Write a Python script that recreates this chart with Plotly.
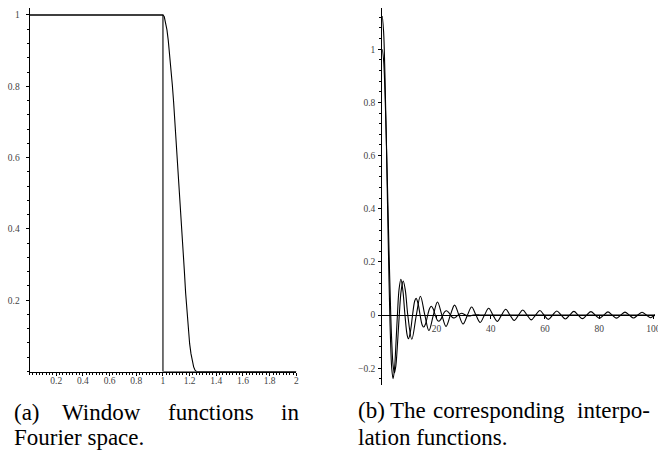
import plotly.graph_objects as go

# ---------------- data ----------------
# (a) window functions in Fourier space
box_x = [0.0, 1.0, 1.0, 2.0]
box_y = [1.0, 1.0, 0.0, 0.0]

smooth_x = [0.0, 1.00, 1.01, 1.02, 1.03, 1.04, 1.05, 1.06, 1.07, 1.08, 1.09, 1.10,
            1.11, 1.12, 1.13, 1.14, 1.15, 1.16, 1.17, 1.18, 1.19, 1.20, 1.21,
            1.22, 1.23, 1.24, 1.25, 2.0]
smooth_y = [1.0, 1.000, 0.995, 0.980, 0.958, 0.928, 0.890, 0.848, 0.805, 0.755, 0.700, 0.645,
            0.590, 0.530, 0.470, 0.410, 0.350, 0.285, 0.220, 0.162, 0.115, 0.078, 0.050,
            0.028, 0.013, 0.004, 0.000, 0.0]

# (b) corresponding interpolation functions
sinc_x = [0, 0.5, 1.0, 1.5, 2.0, 2.5, 3.14, 3.5, 4.0, 4.49, 5.0, 5.5, 6.28, 7.0, 7.73, 8.5,
          9.42, 10.9, 12.57, 14.07, 15.71, 17.22, 18.85, 20.37, 21.99, 23.52, 25.13,
          26.67, 28.27, 29.81, 31.42, 32.96, 34.56, 36.10, 37.70, 39.25, 40.84, 42.39,
          43.98, 45.53, 47.12, 48.67, 50.27, 51.81, 53.41, 54.96, 56.55, 58.10, 59.69,
          61.24, 62.83, 64.38, 65.97, 67.53, 69.12, 70.67, 72.26, 73.81, 75.40, 76.95,
          78.54, 80.10, 81.68, 83.24, 84.82, 86.38, 87.96, 89.52, 91.11, 92.66, 94.25,
          95.81, 97.39, 98.95, 100.53, 102.1]
sinc_y = [1.0, 0.959, 0.841, 0.665, 0.455, 0.239, 0.0, -0.100, -0.189, -0.217, -0.192, -0.128,
          0.0, 0.094, 0.128, 0.094, 0.0, -0.091, 0.0, 0.071, 0.0, -0.058, 0.0, 0.049, 0.0,
          -0.0425, 0.0, 0.0375, 0.0, -0.0335, 0.0, 0.0303, 0.0, -0.0277, 0.0, 0.0255, 0.0,
          -0.0236, 0.0, 0.0220, 0.0, -0.0205, 0.0, 0.0193, 0.0, -0.0182, 0.0, 0.0172, 0.0,
          -0.0163, 0.0, 0.0155, 0.0, -0.0148, 0.0, 0.0141, 0.0, -0.0135, 0.0, 0.0130, 0.0,
          -0.0125, 0.0, 0.0120, 0.0, -0.0116, 0.0, 0.0112, 0.0, -0.0108, 0.0, 0.0104, 0.0,
          -0.0101, 0.0, 0.0098]

smooth_interp_x = [0, 0.5, 1.0, 1.5, 2.0, 2.5, 2.79, 3.0, 3.5, 3.99, 4.5, 5.0, 5.59, 6.2,
                   6.87, 7.6, 8.38, 9.2, 9.69, 10.5, 11.17, 12.0, 12.5, 13.3, 13.96, 14.8,
                   15.31, 16.0, 16.76, 17.5, 18.11, 18.8, 19.55, 20.3, 20.91, 21.6, 22.34,
                   23.0, 23.70, 24.4, 25.13, 25.8, 26.5, 27.2, 27.93, 29.29, 30.72, 32.09,
                   33.51, 34.88, 36.30, 40.0, 102.0]
smooth_interp_y = [1.125, 1.066, 0.901, 0.660, 0.387, 0.127, 0.0, -0.076, -0.200, -0.239,
                   -0.204, -0.118, 0.0, 0.097, 0.135, 0.093, 0.0, -0.076, -0.089, -0.055,
                   0.0, 0.054, 0.063, 0.039, 0.0, -0.039, -0.045, -0.032, 0.0, 0.026, 0.033,
                   0.0225, 0.0, -0.019, -0.023, -0.016, 0.0, 0.012, 0.016, 0.011, 0.0,
                   -0.008, -0.011, -0.007, 0.0, 0.0067, 0.0, -0.0036, 0.0, 0.0015, 0.0, 0.0, 0.0]

left_xtick_vals = [0.2, 0.4, 0.6, 0.8, 1.0, 1.2, 1.4, 1.6, 1.8, 2.0]
left_xtick_text = ["0.2", "0.4", "0.6", "0.8", "1", "1.2", "1.4", "1.6", "1.8", "2"]
left_ytick_vals = [0.2, 0.4, 0.6, 0.8, 1.0]
left_ytick_text = ["0.2", "0.4", "0.6", "0.8", "1"]
right_xtick_vals = [20, 40, 60, 80, 100]
right_xtick_text = ["20", "40", "60", "80", "100"]
right_ytick_vals = [-0.2, 0, 0.2, 0.4, 0.6, 0.8, 1.0]
right_ytick_text = ["\u22120.2", "0", "0.2", "0.4", "0.6", "0.8", "1"]

caption_a1 = ["(a)", "Window", "functions", "in"]
caption_a2 = "Fourier space."
caption_b1 = ["(b)", "The", "corresponding", "interpo-"]
caption_b2 = "lation functions."

# ---------------- layout helpers ----------------
W, H = 658, 452
def fx(p):
    return p / W
def fy(p):
    return 1 - p / H

SERIF = "Liberation Serif, Times New Roman, Times, serif"
LINE = dict(color="black", width=1.1)
TICKFONT = dict(family=SERIF, size=9.5, color="#444")

fig = go.Figure()
fig.add_trace(go.Scatter(x=box_x, y=box_y, mode="lines", line=LINE, xaxis="x", yaxis="y"))
fig.add_trace(go.Scatter(x=smooth_x, y=smooth_y, mode="lines", line=LINE,
                         xaxis="x", yaxis="y"))
fig.add_trace(go.Scatter(x=sinc_x, y=sinc_y, mode="lines", line=dict(LINE, shape="spline"),
                         xaxis="x2", yaxis="y2"))
fig.add_trace(go.Scatter(x=smooth_interp_x, y=smooth_interp_y, mode="lines",
                         line=dict(LINE, shape="spline"), xaxis="x2", yaxis="y2"))

# right panel geometry
r_y_range = [-0.263, 1.155]
r_top, r_bot = 8, 385
r_zero_px = r_top + (r_y_range[1] - 0) / (r_y_range[1] - r_y_range[0]) * (r_bot - r_top)
r_x0, r_scale = 384, 2.724

common_axis = dict(showgrid=False, zeroline=False, showline=True, linecolor="black",
                   linewidth=1, ticks="outside", tickcolor="black", tickwidth=1,
                   tickfont=TICKFONT, fixedrange=True, ticklabeloverflow="allow")

fig.update_layout(
    width=W, height=H, margin=dict(l=0, r=0, t=0, b=0),
    paper_bgcolor="white", plot_bgcolor="white", showlegend=False,
    xaxis=dict(common_axis, domain=[fx(29.7), fx(297.7)], range=[0, 2], anchor="y",
               tickvals=left_xtick_vals, ticktext=left_xtick_text, ticklen=3,
               ticklabelstandoff=-3,
               minor=dict(dtick=0.025, tick0=0, ticklen=2, ticks="outside", tickcolor="black")),
    yaxis=dict(common_axis, domain=[fy(371.5), fy(8)], range=[0, 1.0196], anchor="x",
               tickvals=left_ytick_vals, ticktext=left_ytick_text, ticklen=3,
               ticklabelstandoff=4,
               minor=dict(dtick=0.04, tick0=0, ticklen=2, ticks="outside", tickcolor="black")),
    xaxis2=dict(common_axis, domain=[fx(r_x0), 1.0], range=[0, (W - r_x0) / r_scale],
                anchor="free", position=fy(r_zero_px),
                tickvals=right_xtick_vals, ticktext=right_xtick_text, ticklen=3,
                ticklabelstandoff=2, automargin=False),
    yaxis2=dict(common_axis, domain=[fy(r_bot), fy(r_top)], range=r_y_range, anchor="x2",
                tickvals=right_ytick_vals, ticktext=right_ytick_text, ticklen=3,
                ticklabelstandoff=1,
                minor=dict(dtick=0.04, tick0=0, ticklen=2, ticks="outside", tickcolor="black")),
)

CAP = dict(family=SERIF, size=23, color="black")
a1_pos = [12, 60, 167, 280]
for word, px in zip(caption_a1, a1_pos):
    fig.add_annotation(text=word, x=fx(px), y=fy(412), xref="paper", yref="paper",
                       xanchor="left", yanchor="middle", showarrow=False, font=CAP)
fig.add_annotation(text=caption_a2, x=fx(12), y=fy(437), xref="paper", yref="paper",
                   xanchor="left", yanchor="middle", showarrow=False, font=CAP)
b1_pos = [358, 390, 433, 578]
for word, px in zip(caption_b1, b1_pos):
    fig.add_annotation(text=word, x=fx(px), y=fy(410), xref="paper", yref="paper",
                       xanchor="left", yanchor="middle", showarrow=False, font=CAP)
fig.add_annotation(text=caption_b2, x=fx(358), y=fy(437), xref="paper", yref="paper",
                   xanchor="left", yanchor="middle", showarrow=False, font=CAP)

fig.write_html("out.html", config={"displayModeBar": False},
               post_script="document.body.style.margin='0';document.body.style.padding='0';")
